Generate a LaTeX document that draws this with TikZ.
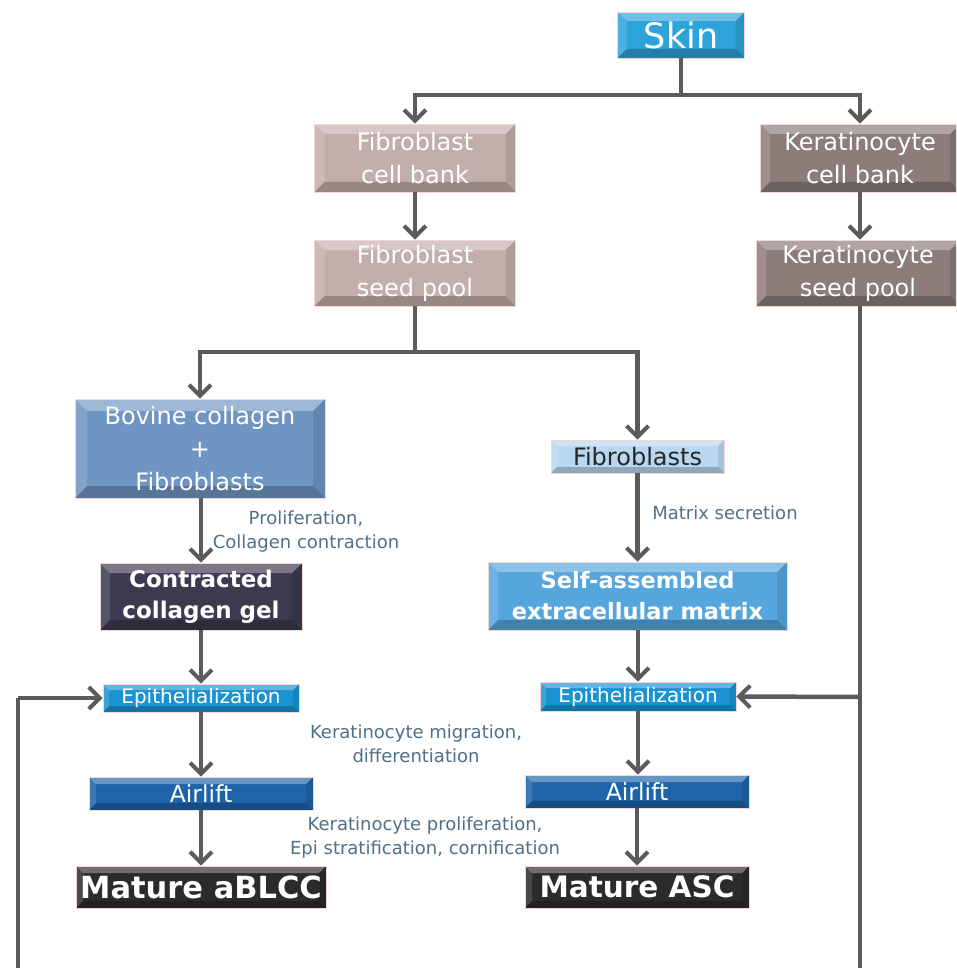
\documentclass[tikz,border=0pt]{standalone}
\usepackage{fontspec}
\setmainfont{DejaVu Sans}
\usetikzlibrary{arrows.meta,calc}
\definecolor{skinc}{HTML}{2EA3DA}
\definecolor{fibc}{HTML}{C2AEAB}
\definecolor{kerc}{HTML}{8C7D7B}
\definecolor{bovc}{HTML}{6F96C2}
\definecolor{fblc}{HTML}{B8D8F2}
\definecolor{conc}{HTML}{3B3A4F}
\definecolor{sacc}{HTML}{56A6DE}
\definecolor{epic}{HTML}{1B93D3}
\definecolor{airc}{HTML}{1F63A8}
\definecolor{matc}{HTML}{2B2B2B}
\definecolor{linec}{HTML}{5B5B5B}
\definecolor{labc}{HTML}{50708A}
\definecolor{edgec}{HTML}{F2D8D0}
\newlength{\bvl}
\setlength{\bvl}{10pt}
\tikzset{
  bx/.style={draw=edgec, line width=0.8pt, inner sep=0pt, align=center, text=white,
    path picture={
      \path (path picture bounding box.north west) coordinate (pNW)
            (path picture bounding box.south east) coordinate (pSE)
            (path picture bounding box.north east) coordinate (pNE)
            (path picture bounding box.south west) coordinate (pSW);
      \fill[white,opacity=.32] (pNW) -- (pNE) -- ($(pNE)+(-\bvl,-\bvl)$) -- ($(pNW)+(\bvl,-\bvl)$) -- cycle;
      \fill[white,opacity=.14] (pNW) -- (pSW) -- ($(pSW)+(\bvl,\bvl)$) -- ($(pNW)+(\bvl,-\bvl)$) -- cycle;
      \fill[black,opacity=.10] (pNE) -- (pSE) -- ($(pSE)+(-\bvl,\bvl)$) -- ($(pNE)+(-\bvl,-\bvl)$) -- cycle;
      \fill[black,opacity=.22] (pSW) -- (pSE) -- ($(pSE)+(-\bvl,\bvl)$) -- ($(pSW)+(\bvl,\bvl)$) -- cycle;
    }},
  bv/.style={/utils/exec={\setlength{\bvl}{#1}}},
  conn/.style={draw=linec, line width=4.5pt},
  arr/.style={conn, -{Straight Barb[length=11pt,width=22pt,line width=4pt]}},
  lab/.style={text=labc, align=center, font=\fontsize{18}{24}\selectfont},
  f24/.style={font=\fontsize{24}{33}\selectfont},
}
\begin{document}
\begin{tikzpicture}[x=1pt,y=1pt]
\useasboundingbox (0,0) rectangle (956,-968);
\fill[white] (0,0) rectangle (956,-968);
\clip (0,0) rectangle (956,-968);

% nodes
\node[bx, bv=9pt, fill=skinc, minimum width=127pt, minimum height=46pt, font=\fontsize{35}{40}\selectfont] (skin) at (681,-35) {Skin};
\node[bx, f24, fill=fibc, minimum width=201pt, minimum height=68pt] (fcb) at (415,-158) {Fibroblast\\cell bank};
\node[bx, f24, fill=kerc, minimum width=200pt, minimum height=68pt] (kcb) at (860,-158) {Keratinocyte\\cell bank};
\node[bx, f24, fill=fibc, minimum width=201pt, minimum height=66pt] (fsp) at (415,-273) {Fibroblast\\seed pool};
\node[bx, f24, fill=kerc, minimum width=204pt, minimum height=66pt] (ksp) at (858,-273) {Keratinocyte\\seed pool};
\node[bx, f24, bv=12pt, fill=bovc, minimum width=250pt, minimum height=99pt] (bov) at (200,-448.5) {Bovine collagen\\+\\Fibroblasts};
\node[bx, f24, bv=6pt, fill=fblc, text=black!85, minimum width=173pt, minimum height=33pt] (fbl) at (637.5,-456.5) {Fibroblasts};
\node[bx, fill=conc, minimum width=202pt, minimum height=67pt, font=\bfseries\fontsize{23}{31}\selectfont] (con) at (201,-596.5) {Contracted\\collagen gel};
\node[bx, fill=sacc, minimum width=299pt, minimum height=68pt, font=\bfseries\fontsize{22.5}{31}\selectfont] (sam) at (637.5,-596) {Self-assembled\\extracellular matrix};
\node[bx, bv=6pt, fill=epic, minimum width=196pt, minimum height=28pt, font=\fontsize{20}{22}\selectfont] (epl) at (201,-698) {Epithelialization};
\node[bx, bv=6pt, fill=epic, minimum width=196pt, minimum height=29pt, font=\fontsize{20}{22}\selectfont] (epr) at (638,-696.5) {Epithelialization};
\node[bx, bv=7pt, fill=airc, minimum width=224pt, minimum height=33pt, font=\fontsize{23.5}{26}\selectfont] (all) at (201,-793.5) {Airlift};
\node[bx, bv=7pt, fill=airc, minimum width=224pt, minimum height=33pt, font=\fontsize{23.5}{26}\selectfont] (alr) at (637,-791.5) {Airlift};
\node[bx, bv=7pt, fill=matc, minimum width=250pt, minimum height=42pt, font=\bfseries\fontsize{30.5}{34}\selectfont] (mal) at (201,-887) {Mature aBLCC};
\node[bx, bv=7pt, fill=matc, minimum width=224pt, minimum height=42pt, font=\bfseries\fontsize{29.5}{34}\selectfont] (mar) at (637,-887) {Mature ASC};

% labels
\node[lab] (l1) at (306,-532) {Proliferation,\\Collagen contraction};
\node[lab] (l2) at (725,-513) {Matrix secretion};
\node[lab] (l3) at (416,-744) {Keratinocyte migration,\\differentiation};
\node[lab] (l4) at (425,-838) {Keratinocyte proliferation,\\Epi stratification, cornification};

% coordinates
\coordinate (s1) at (681,-95);
\coordinate (s2) at (415,-352);
\coordinate (kb) at (860,-990);
\coordinate (lb) at (18,-990);
\coordinate (lt) at (18,-698);
\coordinate (kj) at (860,-697);

% connectors
\draw[conn] (skin.south) -- (s1);
\draw[arr] (s1) -| (fcb.north);
\draw[arr] (s1) -| (kcb.north);
\draw[arr] (fcb) -- (fsp);
\draw[arr] (kcb.south -| 860,0) -- (ksp.north -| 860,0);
\draw[conn] (fsp.south) -- (s2);
\draw[arr] (s2) -| (bov.north);
\draw[arr] (s2) -| (fbl.north);
\draw[arr] (bov.south -| con.north) -- (con.north);
\draw[arr] (fbl) -- (fbl.south |- sam.north);
\draw[arr] (con) -- (epl);
\draw[arr] (sam.south -| epr.north) -- (epr.north);
\draw[arr] (epl) -- (all);
\draw[arr] (epr) -- (epr.south |- alr.north);
\draw[arr] (all) -- (mal);
\draw[arr] (alr) -- (mar);
\draw[conn] (ksp.south -| 860,0) -- (kb) -- (lb) -- (lt);
\draw[arr] (lt) -- (epl.west);
\draw[arr] (kj) -- (epr.east);
\end{tikzpicture}
\end{document}
